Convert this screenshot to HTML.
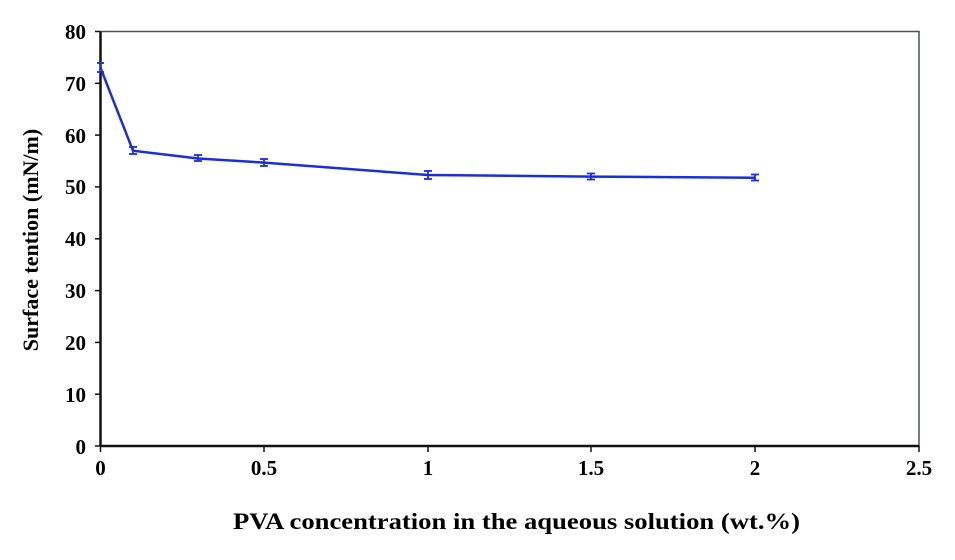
<!DOCTYPE html>
<html><head><meta charset="utf-8"><style>body{margin:0;background:#fff}</style></head>
<body>
<svg width="955" height="555" xmlns="http://www.w3.org/2000/svg" style="font-family:'Liberation Serif',serif;font-weight:bold">
<rect x="0" y="0" width="955" height="555" fill="#fff"/>
<rect x="100.5" y="31.5" width="818.5" height="414.5" fill="none" stroke="#4a5260" stroke-width="1.5"/>
<line x1="100.5" y1="31.5" x2="100.5" y2="446" stroke="#111" stroke-width="2.5"/>
<line x1="100.5" y1="446" x2="919" y2="446" stroke="#111" stroke-width="2.5"/>
<g stroke="#111" stroke-width="1.5">
<line x1="95" y1="31.5" x2="100" y2="31.5"/><line x1="95" y1="83.3" x2="100" y2="83.3"/><line x1="95" y1="135.1" x2="100" y2="135.1"/><line x1="95" y1="186.9" x2="100" y2="186.9"/><line x1="95" y1="238.8" x2="100" y2="238.8"/><line x1="95" y1="290.6" x2="100" y2="290.6"/><line x1="95" y1="342.4" x2="100" y2="342.4"/><line x1="95" y1="394.2" x2="100" y2="394.2"/><line x1="95" y1="446" x2="100" y2="446"/>
<line x1="100.5" y1="446" x2="100.5" y2="452"/><line x1="264" y1="446" x2="264" y2="452"/><line x1="428" y1="446" x2="428" y2="452"/><line x1="591" y1="446" x2="591" y2="452"/><line x1="755" y1="446" x2="755" y2="452"/><line x1="919" y1="446" x2="919" y2="452"/>
</g>
<g font-size="21" text-anchor="end">
<text x="86" y="39">80</text><text x="86" y="91">70</text><text x="86" y="143">60</text><text x="86" y="194">50</text><text x="86" y="246">40</text><text x="86" y="298">30</text><text x="86" y="350">20</text><text x="86" y="402">10</text><text x="86" y="454">0</text>
</g>
<g font-size="21" text-anchor="middle">
<text x="100.5" y="475">0</text><text x="264" y="475">0.5</text><text x="428" y="475">1</text><text x="591" y="475">1.5</text><text x="755" y="475">2</text><text x="919" y="475">2.5</text>
</g>
<text x="233" y="529" font-size="23" textLength="567" lengthAdjust="spacingAndGlyphs">PVA concentration in the aqueous solution (wt.%)</text>
<text transform="translate(38,240) rotate(-90)" font-size="22" text-anchor="middle">Surface tention (mN/m)</text>
<polyline fill="none" stroke="#1a2fd6" stroke-width="2.5" points="100.5,67.8 133,150.7 198,158.5 264,162.6 428,175 591,176.6 755,177.7"/>
<g stroke="#1a2fd6" stroke-width="1.8">
<line x1="100.5" y1="63" x2="100.5" y2="72"/><line x1="97" y1="63" x2="104" y2="63"/><line x1="97" y1="72" x2="104" y2="72"/>
<line x1="133" y1="147" x2="133" y2="154"/><line x1="129" y1="147" x2="137" y2="147"/><line x1="129" y1="154" x2="137" y2="154"/>
<line x1="198" y1="155" x2="198" y2="161"/><line x1="194" y1="155" x2="202" y2="155"/><line x1="194" y1="161" x2="202" y2="161"/>
<line x1="264" y1="159" x2="264" y2="166"/><line x1="260" y1="159" x2="268" y2="159"/><line x1="260" y1="166" x2="268" y2="166"/>
<line x1="428" y1="171" x2="428" y2="179"/><line x1="424" y1="171" x2="432" y2="171"/><line x1="424" y1="179" x2="432" y2="179"/>
<line x1="591" y1="173.5" x2="591" y2="179.5"/><line x1="587" y1="173.5" x2="595" y2="173.5"/><line x1="587" y1="179.5" x2="595" y2="179.5"/>
<line x1="755" y1="174.5" x2="755" y2="180.5"/><line x1="751" y1="174.5" x2="759" y2="174.5"/><line x1="751" y1="180.5" x2="759" y2="180.5"/>
</g>
</svg>
</body></html>
